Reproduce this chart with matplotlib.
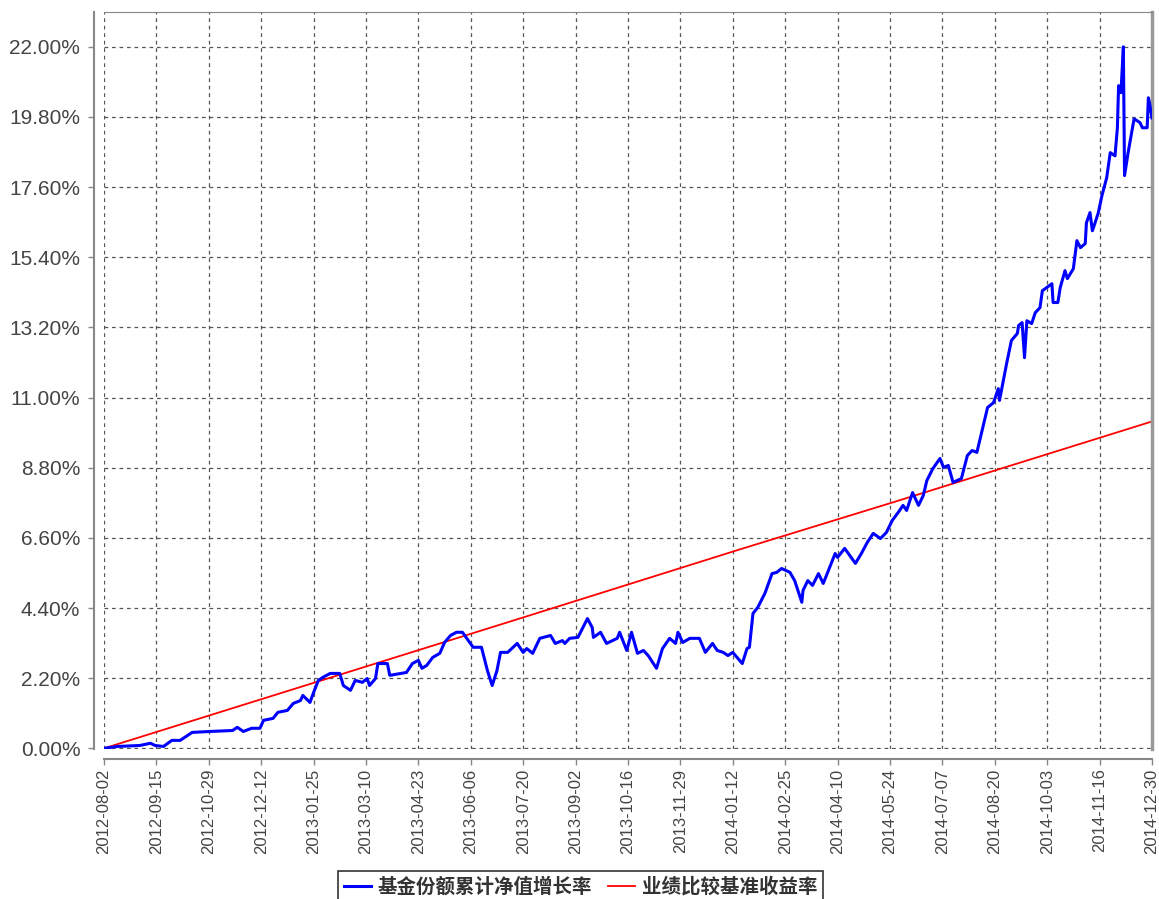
import numpy as np
import matplotlib
matplotlib.use('Agg')
from matplotlib import pyplot as plt
import matplotlib.dates as mdates

# days since 2012-08-02
nav_days = [0, 11, 30, 39, 43, 50, 57, 64, 74, 89, 108, 112, 117, 124, 131,
            134, 142, 146, 154, 159, 165, 167, 173, 176, 180, 184, 190, 198,
            201, 207, 211, 217, 221, 223, 228, 230, 238, 240, 249, 254, 259,
            264, 267, 271, 276, 282, 286, 291, 296, 301, 310, 317, 322, 326,
            330, 333, 339, 347, 352, 355, 360, 366, 375, 379, 385, 387, 391,
            398, 406, 410, 411, 417, 422, 431, 433, 439, 443, 448, 453, 457,
            464, 469, 475, 480, 482, 486, 492, 500, 505, 511, 515, 520, 524,
            528, 536, 540, 542, 545, 549, 555, 561, 565, 569, 576, 580, 586,
            587, 591, 595, 600, 604, 614, 616, 622, 631, 636, 641, 646, 652,
            657, 662, 667, 671, 674, 679, 684, 688, 691, 696, 702, 705, 709,
            713, 720, 725, 729, 733, 738, 742, 747, 751, 752, 758, 762, 767,
            768, 771, 773, 775, 779, 782, 786, 788, 796, 797, 801, 803, 807,
            809, 814, 817, 820, 824, 825, 828, 830, 832, 835, 838, 842, 845,
            849, 851, 852, 854, 856, 857, 860, 865, 870, 872, 876, 877, 878,
            880]
nav_growth = [0.00, 0.06, 0.09, 0.16, 0.09, 0.06, 0.25, 0.25, 0.50, 0.53,
              0.56, 0.66, 0.53, 0.63, 0.63, 0.88, 0.94, 1.13, 1.19, 1.41,
              1.50, 1.66, 1.44, 1.75, 2.13, 2.23, 2.35, 2.35, 1.97, 1.82,
              2.13, 2.07, 2.19, 1.97, 2.19, 2.66, 2.66, 2.29, 2.35, 2.38,
              2.66, 2.76, 2.51, 2.60, 2.85, 2.98, 3.32, 3.54, 3.64, 3.64,
              3.17, 3.17, 2.44, 1.97, 2.44, 3.01, 3.01, 3.29, 3.01, 3.13,
              2.98, 3.45, 3.54, 3.29, 3.38, 3.29, 3.45, 3.48, 4.07, 3.79,
              3.48, 3.64, 3.29, 3.45, 3.64, 3.07, 3.64, 2.98, 3.07, 2.91,
              2.51, 3.13, 3.45, 3.29, 3.64, 3.32, 3.45, 3.45, 3.01, 3.29,
              3.07, 3.01, 2.91, 3.01, 2.66, 3.13, 3.17, 4.23, 4.42, 4.86,
              5.48, 5.52, 5.64, 5.52, 5.26, 4.58, 4.95, 5.26, 5.11, 5.48,
              5.17, 6.11, 5.99, 6.27, 5.80, 6.11, 6.46, 6.74, 6.58, 6.77,
              7.15, 7.40, 7.62, 7.46, 8.02, 7.62, 7.93, 8.40, 8.77, 9.09,
              8.81, 8.87, 8.34, 8.46, 9.18, 9.34, 9.28, 10.06, 10.69, 10.84,
              11.28, 10.91, 12.07, 12.79, 13.01, 13.26, 13.35, 12.25, 13.41,
              13.32, 13.66, 13.82, 14.35, 14.57, 13.98, 13.98, 14.45, 14.98,
              14.73, 15.04, 15.92, 15.70, 15.83, 16.48, 16.80, 16.23, 16.45,
              16.80, 17.33, 17.89, 18.68, 18.58, 19.46, 20.78, 20.56, 22.00,
              17.96, 18.68, 19.74, 19.62, 19.46, 19.46, 20.40, 20.24, 19.77]

bench_days = [0, 349, 534, 663, 880]
bench_growth = [0.00, 4.07, 6.24, 7.72, 10.25]

start = np.datetime64('2012-08-02')
end = np.datetime64('2014-12-30')
nav_dates = start + np.array(nav_days).astype('timedelta64[D]')
bench_dates = start + np.array(bench_days).astype('timedelta64[D]')
tick_dates = start + np.arange(0, 881, 44).astype('timedelta64[D]')
y_ticks = [0.0, 2.2, 4.4, 6.6, 8.8, 11.0, 13.2, 15.4, 17.6, 19.8, 22.0]

labels = ['基金份额累计净值增长率', '业绩比较基准收益率']

plt.rcParams['font.family'] = ['Liberation Sans', 'DejaVu Sans']

fig = plt.figure(figsize=(11.59, 8.99), dpi=100)
ax = fig.add_axes([0.0897, 0.16685, 0.9042, 0.8198])

ax.plot(nav_dates, nav_growth, color='#0000ff', lw=2.2, label=labels[0],
        zorder=3)
ax.plot(bench_dates, bench_growth, color='#ff0000', lw=1.3, label=labels[1],
        zorder=2)

ax.set_xlim(start, end)
ax.set_ylim(-0.02, 23.09)
ax.set_xticks(tick_dates)
ax.xaxis.set_major_formatter(mdates.DateFormatter('%Y-%m-%d'))
ax.set_yticks(y_ticks)
ax.set_yticklabels(['%.2f%%' % v for v in y_ticks])

ax.grid(True, color='#555555', ls=(0, (3, 3)), lw=0.9, zorder=1)

for s in ['left', 'bottom']:
    ax.spines[s].set_position(('outward', 7))
    ax.spines[s].set_color('#888888')
    ax.spines[s].set_linewidth(1.5)
ax.spines['top'].set_color('#888888')
ax.spines['right'].set_color('#999999')
ax.spines['right'].set_linewidth(2.5)

ax.tick_params(axis='y', length=4, width=1, color='#888888', pad=6,
               labelsize=15, labelcolor='#444444')
ax.tick_params(axis='x', length=4, width=1, color='#888888', pad=3,
               labelsize=12, labelcolor='#444444', labelrotation=90)

leg = fig.legend(loc='upper center', bbox_to_anchor=(0.501, 0.031), ncol=2,
                 frameon=True, fancybox=False, edgecolor='black',
                 handlelength=1.4, handletextpad=0.35, columnspacing=0.8,
                 borderpad=0.3, borderaxespad=0,
                 prop={'family': ['Noto Sans CJK SC', 'DejaVu Sans'],
                       'size': 14, 'weight': 'bold'})
leg.get_frame().set_linewidth(1.2)
for t in leg.get_texts():
    t.set_color('#333333')

plt.savefig('out.png', dpi=100)
